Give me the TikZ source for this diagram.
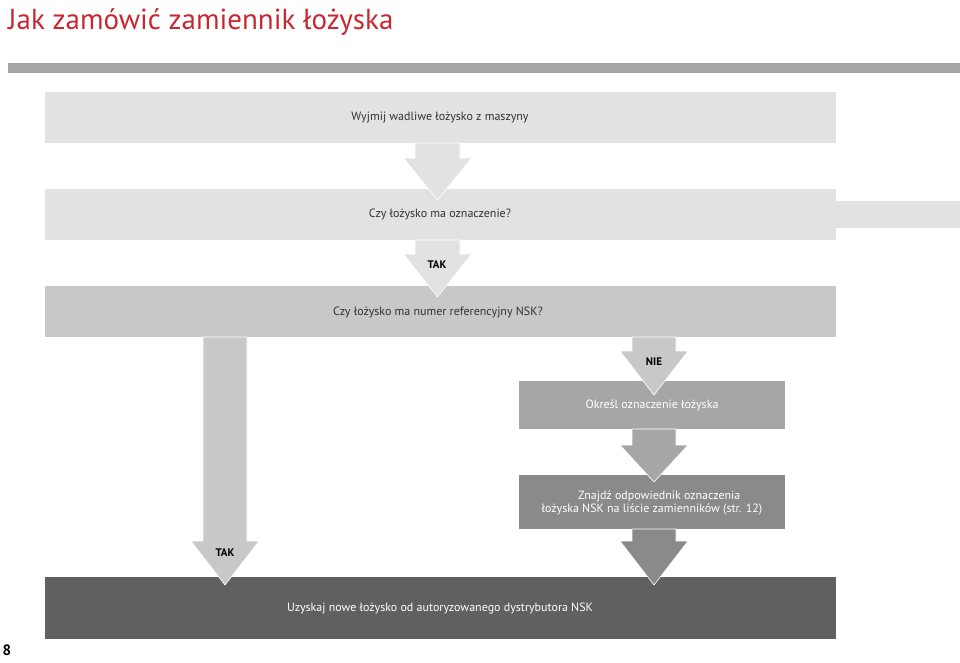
\documentclass[tikz,border=0pt]{standalone}
\usepackage{fontspec}
\setmainfont{PT Sans}
\definecolor{c1}{HTML}{E2E2E2}
\definecolor{c3}{HTML}{C8C8C8}
\definecolor{c4}{HTML}{A6A6A6}
\definecolor{c5}{HTML}{8A8A8A}
\definecolor{c6}{HTML}{606060}
\definecolor{red}{RGB}{200,40,50}
\begin{document}
\begin{tikzpicture}[x=1pt,y=-1pt,
  txt/.style={font=\fontsize{12}{13}\selectfont,text=black!80,inner sep=0},
  wtxt/.style={font=\fontsize{12}{13}\selectfont,text=white,inner sep=0,align=center},
  lbl/.style={font=\fontsize{11}{12}\selectfont\bfseries,text=black,inner sep=0},
  arr/.style={draw=white,line width=0.6pt}]
\useasboundingbox (0,0) rectangle (960,662);
% title and bar
\node[anchor=west,inner sep=0,text=red,font=\fontsize{29}{30}\selectfont] (title) at (8,22) {Jak zamówić zamiennik łożyska};
\fill[c4] (8,63) rectangle (960,73);
% boxes
\fill[c1] (45,92) rectangle (836,143);
\fill[c1] (45,189) rectangle (836,240);
\fill[c1] (836,201) rectangle (960,228);
\fill[c3] (45,286) rectangle (836,337);
\fill[c4] (519,381) rectangle (785,429);
\fill[c5] (519,475) rectangle (785,529);
\fill[c6] (45,577) rectangle (836,639);
% arrows
\newcommand\arrowshape[6]{% color, x1,x2 shaft, y top, y head start, y tip, head half width
  \filldraw[#1,arr] (#2,#4) -- (#3,#4) -- (#3,#5) -- ({(#2+#3)/2+34},#5) -- ({(#2+#3)/2},#6) -- ({(#2+#3)/2-34},#5) -- (#2,#5) -- cycle;}
\arrowshape{c1}{415}{460}{143}{158}{200}
\arrowshape{c1}{415}{460}{240}{254}{297}
\arrowshape{c3}{203}{247}{337}{541}{585}
\arrowshape{c3}{632}{676}{337}{351}{395}
\arrowshape{c4}{632}{676}{429}{445}{482}
\arrowshape{c5}{632}{676}{529}{541}{585}
% texts
\node[txt] (t1) at (440,118) {Wyjmij wadliwe łożysko z maszyny};
\node[txt] (t2) at (440,214) {Czy łożysko ma oznaczenie?};
\node[lbl] (l1) at (437,265) {TAK};
\node[txt] (t3) at (438,312) {Czy łożysko ma numer referencyjny NSK?};
\node[lbl] (l2) at (654,362) {NIE};
\node[wtxt] (t4) at (652,405) {Określ oznaczenie łożyska};
\node[wtxt] (t5) at (652,503) {\hspace*{1.2em}Znajdź odpowiednik oznaczenia\\łożyska NSK na liście zamienników (str. 12)};
\node[lbl] (l3) at (225,553) {TAK};
\node[wtxt] (t6) at (440,608) {Uzyskaj nowe łożysko od autoryzowanego dystrybutora NSK};
\node[inner sep=0,font=\fontsize{15}{16}\selectfont\bfseries] (pg) at (7,650) {8};
\end{tikzpicture}
\end{document}
